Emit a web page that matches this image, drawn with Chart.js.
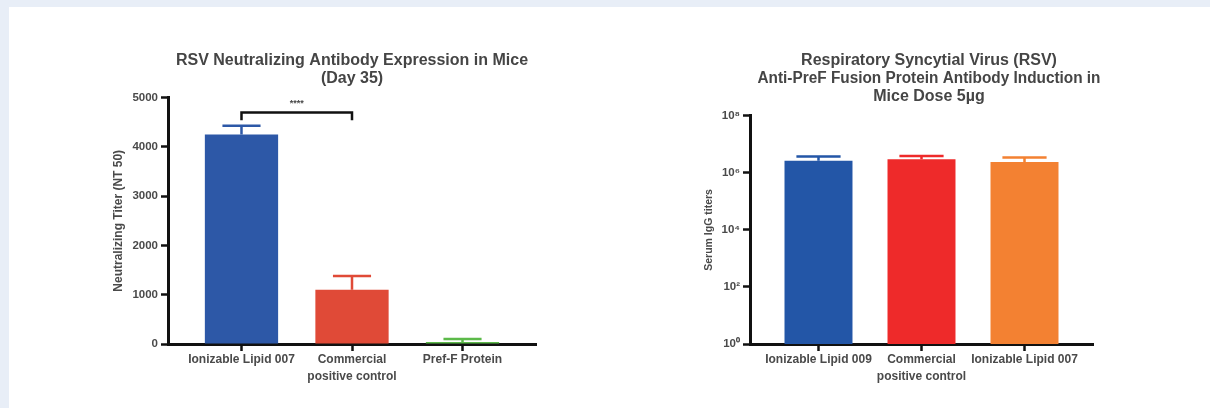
<!DOCTYPE html>
<html>
<head>
<meta charset="utf-8">
<script src="https://cdn.jsdelivr.net/npm/chart.js@4.4.1/dist/chart.umd.min.js"></script>
<style>
  html, body { margin: 0; padding: 0; }
  body {
    width: 1210px; height: 408px; overflow: hidden; position: relative;
    background: #e8eef7;
    font-family: "Liberation Sans", Arial, sans-serif;
  }
  .card { position: absolute; left: 9px; top: 7px; right: 0; bottom: 0; background: #fff; }
  canvas { position: absolute; }
  #neutChart { left: 60px; top: 30px; }
  #iggChart { left: 640px; top: 30px; }
</style>
</head>
<body>
<div class="card"></div>
<canvas id="neutChart" width="500" height="370"></canvas>
<canvas id="iggChart" width="490" height="370"></canvas>

<script>
// Left chart: neutralizing titer (NT50), day 35
const neutCategories = ['Ionizable Lipid 007', 'Commercial\npositive control', 'Pref-F Protein'];
const neutValues = [4250, 1100, 40];
const neutErrors = [180, 280, 60];
const neutColors = ['#2d58a7', '#e04a37', '#5cba4a'];
const neutTicks = [0, 1000, 2000, 3000, 4000, 5000];

// significance bracket between the first two bars
const sigPair = [0, 1];
const sigLevel = 4700;
const sigDrop = 160;
const sigLabel = '****';

// Right chart: serum IgG titers, 5µg dose
const iggCategories = ['Ionizable Lipid 009', 'Commercial\npositive control', 'Ionizable Lipid 007'];
const iggValues = [2.7e6, 3.0e6, 2.4e6];
const iggErrors = [1.1e6, 0.9e6, 1.1e6];
const iggColors = ['#2356a7', '#ee2a2a', '#f38132'];
const iggTickValues = [1, 1e2, 1e4, 1e6, 1e8];
const iggTickLabels = ['10⁰', '10²', '10⁴', '10⁶', '10⁸'];

const TEXT = '#4a4a4a';
const FONT = '"Liberation Sans", Arial, sans-serif';

// error bars drawn on top of each bar (upper side only)
const errorBarPlugin = {
  id: 'errorBars',
  afterDatasetsDraw(chart, args, opts) {
    if (!opts.errors) return;
    const ctx = chart.ctx;
    const yScale = chart.scales.y;
    const ds = chart.data.datasets[0];
    const meta = chart.getDatasetMeta(0);
    ctx.save();
    ctx.lineWidth = opts.lineWidth;
    meta.data.forEach((bar, i) => {
      const top = yScale.getPixelForValue(ds.data[i].y + opts.errors[i]);
      const half = bar.width * opts.capRatio / 2;
      ctx.strokeStyle = ds.backgroundColor[i];
      ctx.beginPath();
      ctx.moveTo(bar.x, bar.y);
      ctx.lineTo(bar.x, top);
      ctx.moveTo(bar.x - half, top);
      ctx.lineTo(bar.x + half, top);
      ctx.stroke();
    });
    ctx.restore();
  }
};

// significance bracket with stars
const bracketPlugin = {
  id: 'sigBracket',
  afterDatasetsDraw(chart, args, opts) {
    if (!opts.pair) return;
    const ctx = chart.ctx;
    const x = chart.scales.x, y = chart.scales.y;
    const x1 = x.getPixelForValue(opts.pair[0]);
    const x2 = x.getPixelForValue(opts.pair[1]);
    const yTop = y.getPixelForValue(opts.level);
    const yEnd = y.getPixelForValue(opts.level - opts.drop);
    ctx.save();
    ctx.strokeStyle = '#111';
    ctx.lineWidth = 2.5;
    ctx.beginPath();
    ctx.moveTo(x1, yEnd);
    ctx.lineTo(x1, yTop);
    ctx.lineTo(x2, yTop);
    ctx.lineTo(x2, yEnd);
    ctx.stroke();
    ctx.fillStyle = TEXT;
    ctx.font = 'bold 9px ' + FONT;
    ctx.textAlign = 'center';
    ctx.textBaseline = 'middle';
    ctx.fillText(opts.label, (x1 + x2) / 2, yTop - 9);
    ctx.restore();
  }
};

// nudge the title block sideways (the original title is not centred on the plot)
const titleShiftPlugin = {
  id: 'titleShift',
  afterLayout(chart, args, opts) {
    if (!opts.dx || !chart.titleBlock) return;
    chart.titleBlock.left += opts.dx;
    chart.titleBlock.right += opts.dx;
  }
};

function categoryAxis(categories) {
  return {
    type: 'linear',
    min: -0.665,
    max: categories.length - 1 + 0.665,
    offset: false,
    afterBuildTicks: scale => { scale.ticks = categories.map((c, i) => ({ value: i })); },
    afterFit: scale => { scale.height = 56; },
    border: { display: true, color: '#111', width: 3 },
    grid: { display: true, offset: false, drawOnChartArea: false, tickLength: 7, tickWidth: 2.5, tickColor: '#111' },
    ticks: {
      padding: 1,
      color: TEXT,
      font: { family: FONT, size: 12, weight: 'bold', lineHeight: 1.35 },
      maxRotation: 0,
      autoSkip: false,
      callback: value => categories[value] ? categories[value].split('\n') : ''
    }
  };
}

function valueAxisBase(axisWidth, titleText, titleSize, titlePad) {
  return {
    afterFit: scale => { scale.width = axisWidth; },
    border: { display: true, color: '#111', width: 3 },
    grid: { display: true, drawOnChartArea: false, tickLength: 7, tickWidth: 2.5, tickColor: '#111' },
    title: {
      display: true,
      text: titleText,
      color: TEXT,
      font: { family: FONT, size: titleSize, weight: 'bold', lineHeight: 1.2 },
      padding: { top: titlePad, bottom: 0 }
    },
    ticks: {
      padding: 3,
      color: TEXT,
      font: { family: FONT, size: 11.5, weight: 'bold' }
    }
  };
}

function titleOptions(lines) {
  return {
    display: true,
    text: lines,
    fullSize: false,
    color: '#454545',
    font: { family: FONT, size: 16, weight: 'bold', lineHeight: 18.3 / 16 },
    padding: { top: 21, bottom: 10 }
  };
}

function initNeutChart() {
  const yAxis = valueAxisBase(108, 'Neutralizing Titer (NT 50)', 12, 51);
  yAxis.min = neutTicks[0];
  yAxis.max = neutTicks[neutTicks.length - 1];
  yAxis.afterBuildTicks = scale => { scale.ticks = neutTicks.map(v => ({ value: v })); };
  yAxis.ticks.callback = value => String(value);

  new Chart(document.getElementById('neutChart'), {
    type: 'bar',
    data: {
      datasets: [{
        data: neutValues.map((v, i) => ({ x: i, y: v })),
        backgroundColor: neutColors,
        borderWidth: 0,
        barPercentage: 0.663,
        categoryPercentage: 1
      }]
    },
    options: {
      responsive: false,
      animation: false,
      layout: { padding: { left: 0, right: 24, top: 0, bottom: 0 } },
      scales: { x: categoryAxis(neutCategories), y: yAxis },
      plugins: {
        legend: { display: false },
        tooltip: { enabled: false },
        title: titleOptions(['RSV Neutralizing Antibody Expression in Mice', '(Day 35)']),
        errorBars: { errors: neutErrors, capRatio: 0.52, lineWidth: 2.5 },
        sigBracket: { pair: sigPair, level: sigLevel, drop: sigDrop, label: sigLabel }
      }
    },
    plugins: [errorBarPlugin, bracketPlugin]
  });
}

function initIggChart() {
  const yAxis = valueAxisBase(110, 'Serum IgG titers', 10.5, 63);
  yAxis.type = 'logarithmic';
  yAxis.min = iggTickValues[0];
  yAxis.max = iggTickValues[iggTickValues.length - 1];
  yAxis.afterBuildTicks = scale => { scale.ticks = iggTickValues.map(v => ({ value: v })); };
  yAxis.ticks.callback = value => {
    const idx = iggTickValues.indexOf(value);
    return idx >= 0 ? iggTickLabels[idx] : '';
  };

  new Chart(document.getElementById('iggChart'), {
    type: 'bar',
    data: {
      datasets: [{
        data: iggValues.map((v, i) => ({ x: i, y: v })),
        backgroundColor: iggColors,
        borderWidth: 0,
        barPercentage: 0.66,
        categoryPercentage: 1
      }]
    },
    options: {
      responsive: false,
      animation: false,
      layout: { padding: { left: 0, right: 37, top: 0, bottom: 0 } },
      scales: { x: categoryAxis(iggCategories), y: yAxis },
      plugins: {
        legend: { display: false },
        tooltip: { enabled: false },
        title: titleOptions([
          'Respiratory Syncytial Virus (RSV)',
          'Anti-PreF Fusion Protein Antibody Induction in',
          'Mice Dose 5µg'
        ]),
        titleShift: { dx: 7.5 },
        errorBars: { errors: iggErrors, capRatio: 0.65, lineWidth: 2.5 }
      }
    },
    plugins: [errorBarPlugin, titleShiftPlugin]
  });
}

document.addEventListener('DOMContentLoaded', function() {
  try {
    initNeutChart();
    initIggChart();
  } catch (error) {
    console.error('Error during chart init:', error);
  }
});
</script>
</body>
</html>
